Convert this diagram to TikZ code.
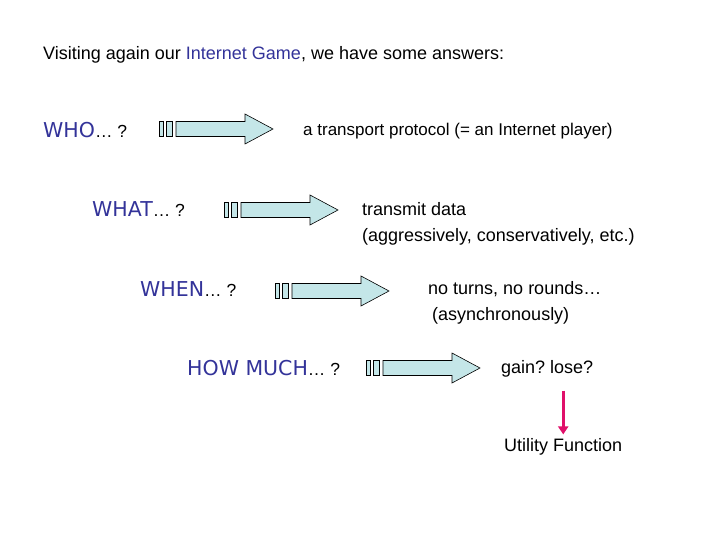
\documentclass[tikz,border=0pt]{standalone}
\usepackage{fontspec}
\setmainfont{Liberation Sans}
\newfontfamily\qfont{DejaVu Sans}
\usetikzlibrary{arrows.meta}
\frenchspacing
\definecolor{qblue}{RGB}{51,51,153}
\definecolor{arrfill}{RGB}{196,230,232}
\definecolor{pinkarr}{RGB}{224,16,106}
\tikzset{
  txt/.style={anchor=west, inner sep=0pt, font=\fontsize{18}{21}\selectfont},
  qtxt/.style={anchor=west, inner sep=0pt, font=\fontsize{17.5}{21}\selectfont},
  fatarrow/.style={draw=black, line width=0.6pt, fill=arrfill},
  bigarrow/.pic={
    \draw[fatarrow] (0,-7.5) rectangle (4,7.5);
    \draw[fatarrow] (7,-7.5) rectangle (13,7.5);
    \draw[fatarrow] (17,-7.5) -- (86,-7.5) -- (86,-15) -- (114,0) -- (86,15) -- (86,7.5) -- (17,7.5) -- cycle;
  }
}
\newcommand{\qw}[1]{\textcolor{qblue}{\qfont\fontsize{20.5}{22}\selectfont #1}}
\begin{document}
\begin{tikzpicture}[x=1pt,y=-1pt]
\useasboundingbox (0,0) rectangle (720,540);
\node[txt] (title) at (43,55) {Visiting again our \textcolor{qblue}{Internet Game}, we have some answers:};

\node[qtxt] (who) at (43,130) {\qw{WHO}… ?};
\pic (a1) at (159,129) {bigarrow};
\node[txt, font=\fontsize{17}{21}\selectfont] (ans1) at (303,131) {a transport protocol (= an Internet player)};

\node[qtxt] (what) at (92,209) {\qw{WHAT}… ?};
\pic (a2) at (224,210) {bigarrow};
\node[txt] (ans2) at (362,209) {transmit data};
\node[txt] (ans2b) at (362,237) {(aggressively, conservatively, etc.)};

\node[qtxt] (when) at (140,289) {\qw{WHEN}… ?};
\pic (a3) at (275,291) {bigarrow};
\node[txt] (ans3) at (428,289) {no turns, no rounds…};
\node[txt] (ans3b) at (432,316) {(asynchronously)};

\node[qtxt] (howmuch) at (187,368) {\qw{HOW MUCH}… ?};
\pic (a4) at (366,368) {bigarrow};
\node[txt] (gain) at (501,369) {gain? lose?};
\node[txt] (util) at (504,447) {Utility Function};

\draw[pinkarr, line width=2.8pt, -{Triangle[length=8pt,width=10pt]}] ([yshift=-13pt]util.north |- gain.south) -- ([yshift=4pt]util.north);
\end{tikzpicture}
\end{document}
